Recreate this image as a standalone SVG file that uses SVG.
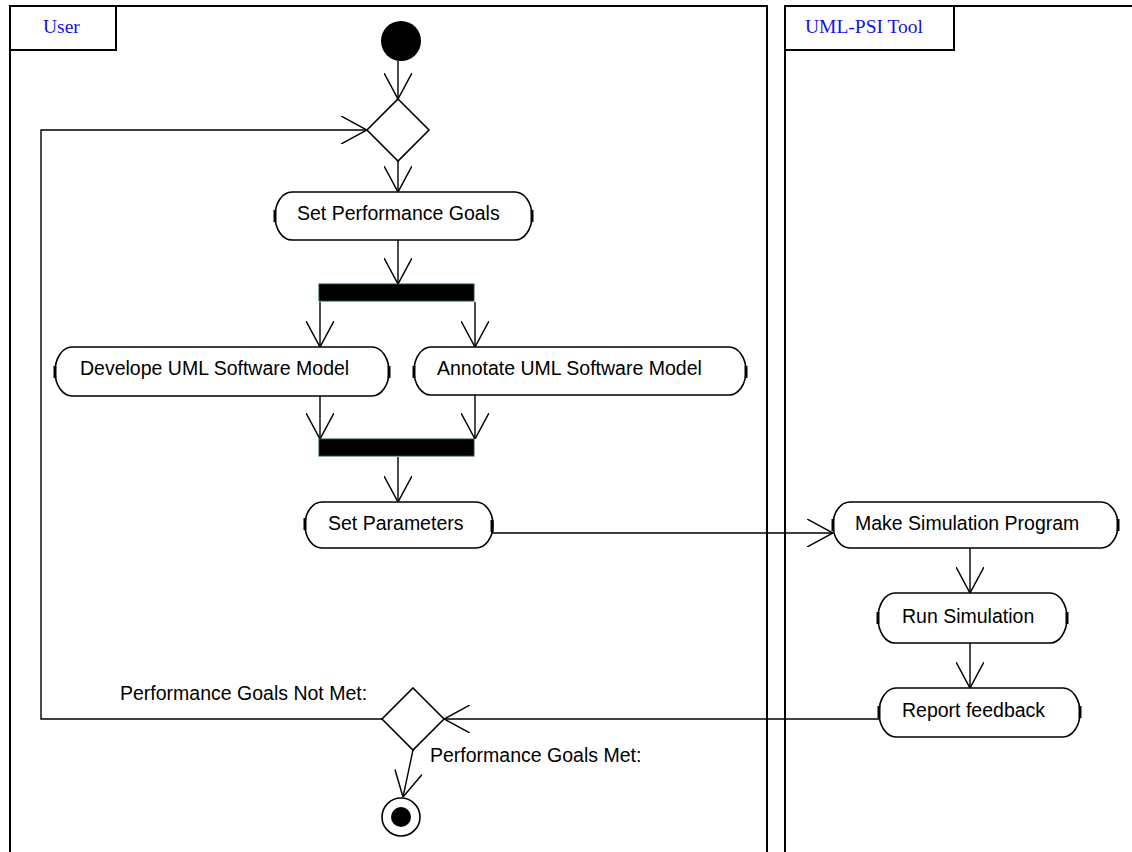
<svg xmlns="http://www.w3.org/2000/svg" width="1132" height="852" viewBox="0 0 1132 852">
  <style>
    .lane { fill: none; stroke: #000; stroke-width: 2; }
    .hdr { fill: #fff; stroke: #000; stroke-width: 2; }
    .hdrtxt { font-family: "Liberation Serif", "Times New Roman", serif; font-size: 19.5px; fill: #1010f0; }
    .act { fill: #fff; stroke: #000; stroke-width: 1.6; }
    .tick { stroke: #000; stroke-width: 3; }
    .lbl { font-family: "Liberation Sans", Arial, sans-serif; font-size: 19.5px; fill: #000; }
    .edge { fill: none; stroke: #000; stroke-width: 1.4; marker-end: url(#open); }
    .bar { fill: #000; stroke: #1d4a4a; stroke-width: 1; }
    .dec { fill: #fff; stroke: #000; stroke-width: 1.6; }
  </style>
  <defs>
    <marker id="open" viewBox="0 0 26 28" refX="26" refY="14" markerWidth="26" markerHeight="28" markerUnits="userSpaceOnUse" orient="auto">
      <path d="M0,0 L26,14 L0,28" fill="none" stroke="#000" stroke-width="1.5"/>
    </marker>
  </defs>

  <rect width="1132" height="852" fill="#fff"/>

  <!-- swimlanes -->
  <g id="lane-user">
    <path class="lane" d="M10,852 V6 H767 V852"/>
    <rect class="hdr" x="10" y="6" width="106" height="44"/>
    <text class="hdrtxt" x="43" y="33">User</text>
  </g>
  <g id="lane-tool">
    <path class="lane" d="M785,852 V6 H1134"/>
    <rect class="hdr" x="785" y="6" width="169" height="44"/>
    <text class="hdrtxt" x="805" y="33">UML-PSI Tool</text>
  </g>

  <!-- connectors -->
  <g id="connectors">
    <path class="edge" d="M398,61 V99"/>
    <path class="edge" d="M398,161 V192"/>
    <path class="edge" d="M398,240 V284"/>
    <path class="edge" d="M320,302 V347"/>
    <path class="edge" d="M475,302 V347"/>
    <path class="edge" d="M320,396 V439"/>
    <path class="edge" d="M475,395 V439"/>
    <path class="edge" d="M398,457 V502"/>
    <path class="edge" d="M492,533 H833"/>
    <path class="edge" d="M970,548 V593"/>
    <path class="edge" d="M970,643 V688"/>
    <path class="edge" d="M879,719 H444"/>
    <path class="edge" d="M382,719 H41 V130 H367"/>
    <path class="edge" d="M413,750 L403,797"/>
  </g>

  <!-- initial node -->
  <g id="start">
    <circle cx="401" cy="41" r="20" fill="#000"/>
  </g>

  <!-- merge decision -->
  <g id="merge">
    <path class="dec" d="M398,99 L429,130 L398,161 L367,130 Z"/>
  </g>

  <g id="set-goals">
    <path class="act" d="M292,192 H515 A17,24 0 0 1 515,240 H292 A17,24 0 0 1 292,192 Z"/>
    <line class="tick" x1="275" y1="210" x2="275" y2="222"/>
    <line class="tick" x1="532" y1="210" x2="532" y2="222"/>
    <text class="lbl" x="297" y="220">Set Performance Goals</text>
  </g>

  <g id="fork">
    <rect class="bar" x="319" y="284" width="155" height="17"/>
  </g>

  <g id="develop-model">
    <path class="act" d="M72,347 H372 A17,24.5 0 0 1 372,396 H72 A17,24.5 0 0 1 72,347 Z"/>
    <line class="tick" x1="55" y1="366" x2="55" y2="378"/>
    <line class="tick" x1="389" y1="366" x2="389" y2="378"/>
    <text class="lbl" x="80" y="375">Develope UML Software Model</text>
  </g>

  <g id="annotate-model">
    <path class="act" d="M431,347 H729 A17,24 0 0 1 729,395 H431 A17,24 0 0 1 431,347 Z"/>
    <line class="tick" x1="414" y1="366" x2="414" y2="378"/>
    <line class="tick" x1="746" y1="366" x2="746" y2="378"/>
    <text class="lbl" x="437" y="375">Annotate UML Software Model</text>
  </g>

  <g id="join">
    <rect class="bar" x="319" y="439" width="155" height="17"/>
  </g>

  <g id="set-parameters">
    <path class="act" d="M322,502 H476 A17,23 0 0 1 476,548 H322 A17,23 0 0 1 322,502 Z"/>
    <line class="tick" x1="305" y1="518" x2="305" y2="530"/>
    <line class="tick" x1="492" y1="520" x2="492" y2="532"/>
    <text class="lbl" x="328" y="530">Set Parameters</text>
  </g>

  <g id="make-program">
    <path class="act" d="M850,502 H1101 A17,23 0 0 1 1101,548 H850 A17,23 0 0 1 850,502 Z"/>
    <line class="tick" x1="833" y1="519" x2="833" y2="531"/>
    <line class="tick" x1="1118" y1="519" x2="1118" y2="531"/>
    <text class="lbl" x="855" y="530">Make Simulation Program</text>
  </g>

  <g id="run-simulation">
    <path class="act" d="M895,593 H1050 A17,25 0 0 1 1050,643 H895 A17,25 0 0 1 895,593 Z"/>
    <line class="tick" x1="878" y1="612" x2="878" y2="624"/>
    <line class="tick" x1="1067" y1="612" x2="1067" y2="624"/>
    <text class="lbl" x="902" y="623">Run Simulation</text>
  </g>

  <g id="report-feedback">
    <path class="act" d="M896,688 H1063 A17,24.5 0 0 1 1063,737 H896 A17,24.5 0 0 1 896,688 Z"/>
    <line class="tick" x1="879" y1="706" x2="879" y2="718"/>
    <line class="tick" x1="1080" y1="706" x2="1080" y2="718"/>
    <text class="lbl" x="902" y="717">Report feedback</text>
  </g>

  <g id="goals-decision">
    <path class="dec" d="M413,688 L444,719 L413,750 L382,719 Z"/>
    <text class="lbl" x="120" y="700">Performance Goals Not Met:</text>
    <text class="lbl" x="430" y="762">Performance Goals Met:</text>
  </g>

  <!-- final node -->
  <g id="end">
    <circle cx="401" cy="817" r="19" fill="#fff" stroke="#000" stroke-width="1.6"/>
    <circle cx="401" cy="817" r="10" fill="#000"/>
  </g>
</svg>
